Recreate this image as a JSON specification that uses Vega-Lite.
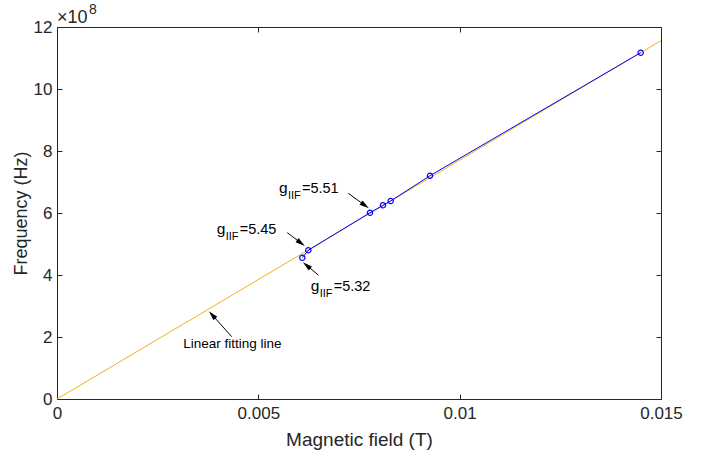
{
  "$schema": "https://vega.github.io/schema/vega-lite/v6.json",
  "width": 604,
  "height": 372,
  "autosize": {"type": "none"},
  "padding": {"left": 57, "top": 27, "right": 60, "bottom": 65},
  "background": "white",
  "config": {
    "view": {"stroke": null},
    "font": "Liberation Sans",
    "axis": {"grid": false, "domainColor": "#262626", "tickColor": "#262626", "labelColor": "#262626", "titleColor": "#262626", "titleFontWeight": "normal", "labelFont": "Liberation Sans", "titleFont": "Liberation Sans"}
  },
  "datasets": {
    "fit": [
      {"B": 0, "f": 0},
      {"B": 0.015, "f": 1156000000}
    ],
    "meas": [
      {"B": 0.006092, "f": 455800000},
      {"B": 0.006241, "f": 479700000},
      {"B": 0.007773, "f": 601000000},
      {"B": 0.008096, "f": 624800000},
      {"B": 0.008287, "f": 638700000},
      {"B": 0.009263, "f": 720300000},
      {"B": 0.014495, "f": 1117100000}
    ],
    "arrows": [
      {"id": "a1", "B": 0.007234, "f": 663500000, "B2": 0.007632, "f2": 626100000},
      {"id": "a2", "B": 0.005719, "f": 536500000, "B2": 0.006042, "f2": 504800000},
      {"id": "a3", "B": 0.006489, "f": 400000000, "B2": 0.006216, "f2": 429400000},
      {"id": "a4", "B": 0.004339, "f": 201000000, "B2": 0.003867, "f2": 269400000}
    ],
    "labels": [
      {"B": 0.005513, "f": 664500000, "g": "g", "sub": "IIF", "val": "=5.51"},
      {"B": 0.003966, "f": 532300000, "g": "g", "sub": "IIF", "val": "=5.45"},
      {"B": 0.0063, "f": 349400000, "g": "g", "sub": "IIF", "val": "=5.32"}
    ],
    "note": [
      {"B": 0.003137, "f": 165500000, "text": "Linear fitting line"}
    ],
    "expo": [
      {"B": 0, "f": 1200000000, "base": "×10", "exp": "8"}
    ]
  },
  "resolve": {"axis": {"x": "independent", "y": "independent"}},
  "layer": [
    {
      "data": {"name": "fit"},
      "mark": {"type": "line", "color": "#EDB120", "strokeWidth": 1},
      "encoding": {
        "x": {"field": "B", "type": "quantitative", "scale": {"domain": [0, 0.015], "nice": false, "zero": false},
          "axis": {"orient": "bottom", "values": [0, 0.005, 0.01, 0.015], "labelExpr": "datum.value == 0 ? '0' : format(datum.value, '~g')", "tickSize": -5, "labelPadding": 11, "labelFontSize": 17, "labelFlush": false, "title": "Magnetic field (T)", "titleFontSize": 19, "titlePadding": 9}},
        "y": {"field": "f", "type": "quantitative", "scale": {"domain": [0, 1200000000], "nice": false, "zero": false},
          "axis": {"orient": "left", "values": [0, 200000000, 400000000, 600000000, 800000000, 1000000000, 1200000000], "labelExpr": "'' + round(datum.value / 100000000)", "tickSize": -5, "labelPadding": 10, "labelFontSize": 17, "labelFlush": false, "title": "Frequency (Hz)", "titleFontSize": 18, "titlePadding": 3}}
      }
    },
    {
      "data": {"name": "meas"},
      "mark": {"type": "line", "color": "#0000FF", "strokeWidth": 1, "point": {"filled": false, "shape": "circle", "size": 28, "stroke": "#0000FF", "strokeWidth": 1.2}},
      "encoding": {
        "x": {"field": "B", "type": "quantitative", "scale": {"domain": [0, 0.015], "nice": false, "zero": false},
          "axis": {"orient": "top", "values": [0, 0.005, 0.01, 0.015], "labels": false, "tickSize": -5, "title": null}},
        "y": {"field": "f", "type": "quantitative", "scale": {"domain": [0, 1200000000], "nice": false, "zero": false},
          "axis": {"orient": "right", "values": [0, 200000000, 400000000, 600000000, 800000000, 1000000000, 1200000000], "labels": false, "tickSize": -5, "title": null}}
      }
    },
    {
      "data": {"name": "arrows"},
      "mark": {"type": "rule", "color": "black", "strokeWidth": 1},
      "encoding": {
        "x": {"field": "B", "type": "quantitative", "axis": null},
        "y": {"field": "f", "type": "quantitative", "axis": null},
        "x2": {"field": "B2"},
        "y2": {"field": "f2"}
      }
    },
    {
      "data": {"name": "arrows"},
      "transform": [{"filter": "datum.id == 'a1'"}],
      "mark": {"type": "point", "filled": true, "color": "black", "opacity": 1, "shape": "M0,-1L0.45,0.7L-0.45,0.7Z", "size": 130, "angle": 126},
      "encoding": {
        "x": {"field": "B2", "type": "quantitative", "axis": null},
        "y": {"field": "f2", "type": "quantitative", "axis": null}
      }
    },
    {
      "data": {"name": "arrows"},
      "transform": [{"filter": "datum.id == 'a2'"}],
      "mark": {"type": "point", "filled": true, "color": "black", "opacity": 1, "shape": "M0,-1L0.45,0.7L-0.45,0.7Z", "size": 130, "angle": 127},
      "encoding": {
        "x": {"field": "B2", "type": "quantitative", "axis": null},
        "y": {"field": "f2", "type": "quantitative", "axis": null}
      }
    },
    {
      "data": {"name": "arrows"},
      "transform": [{"filter": "datum.id == 'a3'"}],
      "mark": {"type": "point", "filled": true, "color": "black", "opacity": 1, "shape": "M0,-1L0.45,0.7L-0.45,0.7Z", "size": 130, "angle": -50},
      "encoding": {
        "x": {"field": "B2", "type": "quantitative", "axis": null},
        "y": {"field": "f2", "type": "quantitative", "axis": null}
      }
    },
    {
      "data": {"name": "arrows"},
      "transform": [{"filter": "datum.id == 'a4'"}],
      "mark": {"type": "point", "filled": true, "color": "black", "opacity": 1, "shape": "M0,-1L0.45,0.7L-0.45,0.7Z", "size": 130, "angle": -42},
      "encoding": {
        "x": {"field": "B2", "type": "quantitative", "axis": null},
        "y": {"field": "f2", "type": "quantitative", "axis": null}
      }
    },
    {
      "data": {"name": "labels"},
      "mark": {"type": "text", "align": "left", "baseline": "alphabetic", "fontSize": 15.5, "color": "black"},
      "encoding": {
        "x": {"field": "B", "type": "quantitative", "axis": null},
        "y": {"field": "f", "type": "quantitative", "axis": null},
        "text": {"field": "g"}
      }
    },
    {
      "data": {"name": "labels"},
      "mark": {"type": "text", "align": "left", "baseline": "alphabetic", "fontSize": 11, "dx": 9, "dy": 6, "color": "black"},
      "encoding": {
        "x": {"field": "B", "type": "quantitative", "axis": null},
        "y": {"field": "f", "type": "quantitative", "axis": null},
        "text": {"field": "sub"}
      }
    },
    {
      "data": {"name": "labels"},
      "mark": {"type": "text", "align": "left", "baseline": "alphabetic", "fontSize": 14.5, "dx": 23, "color": "black"},
      "encoding": {
        "x": {"field": "B", "type": "quantitative", "axis": null},
        "y": {"field": "f", "type": "quantitative", "axis": null},
        "text": {"field": "val"}
      }
    },
    {
      "data": {"name": "note"},
      "mark": {"type": "text", "align": "left", "baseline": "alphabetic", "fontSize": 13.5, "color": "black"},
      "encoding": {
        "x": {"field": "B", "type": "quantitative", "axis": null},
        "y": {"field": "f", "type": "quantitative", "axis": null},
        "text": {"field": "text"}
      }
    },
    {
      "data": {"name": "expo"},
      "mark": {"type": "text", "align": "left", "baseline": "alphabetic", "fontSize": 18, "dx": 0, "dy": -4, "color": "#262626"},
      "encoding": {
        "x": {"field": "B", "type": "quantitative", "axis": null},
        "y": {"field": "f", "type": "quantitative", "axis": null},
        "text": {"field": "base"}
      }
    },
    {
      "data": {"name": "expo"},
      "mark": {"type": "text", "align": "left", "baseline": "alphabetic", "fontSize": 14, "dx": 32, "dy": -13, "color": "#262626"},
      "encoding": {
        "x": {"field": "B", "type": "quantitative", "axis": null},
        "y": {"field": "f", "type": "quantitative", "axis": null},
        "text": {"field": "exp"}
      }
    }
  ]
}
